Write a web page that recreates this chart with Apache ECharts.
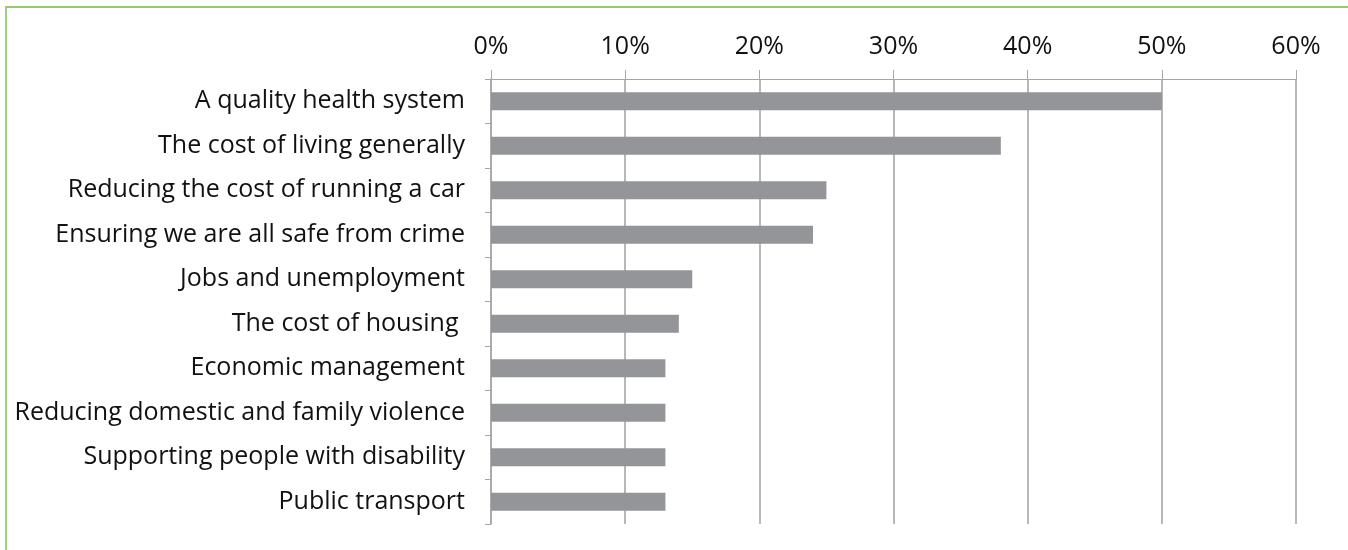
<!DOCTYPE html>
<html>
<head>
<meta charset="utf-8">
<script src="https://cdn.jsdelivr.net/npm/echarts@6/dist/echarts.min.js"></script>
<style>
html,body{margin:0;padding:0;background:#fff;overflow:hidden;width:1348px;height:550px;}
#frame{position:absolute;left:5px;top:6px;width:1343px;height:544px;border-left:2px solid #9fd07e;border-top:2px solid #93ca6c;box-sizing:border-box;pointer-events:none;z-index:2;}
#chart{position:absolute;left:0;top:0;width:1348px;height:550px;}
</style>
</head>
<body>
<div id="chart"></div>
<div id="frame"></div>
<script>
const categories = [
  "A quality health system",
  "The cost of living generally",
  "Reducing the cost of running a car",
  "Ensuring we are all safe from crime",
  "Jobs and unemployment",
  "The cost of housing ",
  "Economic management",
  "Reducing domestic and family violence",
  "Supporting people with disability",
  "Public transport"
];
const values = [0.50, 0.38, 0.25, 0.24, 0.15, 0.14, 0.13, 0.13, 0.13, 0.13];
const xTicks = [0, 0.1, 0.2, 0.3, 0.4, 0.5, 0.6];

const chart = echarts.init(document.getElementById('chart'));
const fontFam = '"Open Sans", sans-serif';
chart.setOption({
  animation: false,
  grid: {left: 491, right: 52, top: 79, bottom: 26, containLabel: false},
  xAxis: {
    type: 'value',
    position: 'top',
    min: xTicks[0],
    max: xTicks[xTicks.length - 1],
    interval: 0.1,
    axisLine: {show: true, lineStyle: {color: '#a6a6a6', width: 1}},
    axisTick: {show: true, length: 9, lineStyle: {color: '#a6a6a6'}},
    splitLine: {show: true, lineStyle: {color: '#a0a0a0', width: 1.5}},
    axisLabel: {
      margin: 20,
      color: '#111',
      fontSize: 25,
      fontFamily: fontFam,
      formatter: v => Math.round(v * 100) + '%'
    }
  },
  yAxis: {
    type: 'category',
    inverse: true,
    data: categories,
    axisLine: {show: true, lineStyle: {color: '#a6a6a6', width: 1.5}},
    axisTick: {show: true, length: 6, lineStyle: {color: '#a6a6a6'}},
    axisLabel: {
      margin: 26,
      color: '#111',
      fontSize: 25,
      fontFamily: fontFam
    }
  },
  series: [{
    type: 'bar',
    data: values,
    barWidth: 18,
    itemStyle: {color: '#939598'},
    z: 3
  }]
});
</script>
</body>
</html>
